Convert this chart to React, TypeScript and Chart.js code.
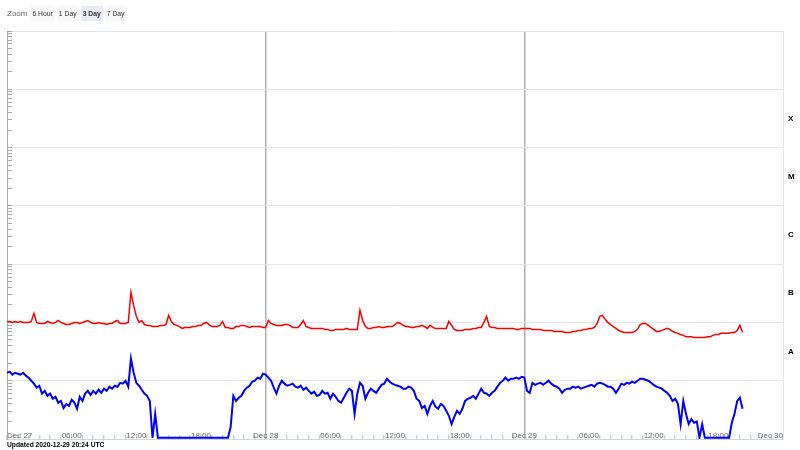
import { useEffect, useRef } from 'react';
import { Chart, registerables } from 'chart.js';

Chart.register(...registerables);

// Time axis: hours since Dec 27 00:00 UTC, samples every 15 minutes
const STEP_HOURS = 0.25;
const dayLabels = ['Dec 27', 'Dec 28', 'Dec 29', 'Dec 30'];
const hourLabels: Record<number, string> = { 6: '06:00', 12: '12:00', 18: '18:00' };
const classLabels = ['A', 'B', 'C', 'M', 'X'];
const classFloors = [1e-8, 1e-7, 1e-6, 1e-5, 1e-4];
const zoomButtons = ['6 Hour', '1 Day', '3 Day', '7 Day'];
const selectedZoom = '3 Day';
const updatedText = 'Updated 2020-12-29 20:24 UTC';

// GOES 0.05-0.4 nm flux, units of 1e-9 W/m^2 (blue)
const xrsShort = [
  13.7, 14.3, 12.7, 13.7, 13.2, 12.7, 13.7, 12.2,
  11.3, 10.0, 8.9, 7.6, 8.2, 6.0, 6.7, 5.5,
  6.0, 4.9, 5.3, 4.2, 4.5, 3.4, 4.0, 3.7,
  4.7, 4.2, 3.3, 5.3, 4.5, 6.0, 6.7, 5.7,
  6.7, 6.0, 7.0, 6.2, 7.3, 6.7, 7.9, 7.3,
  8.2, 7.9, 9.2, 8.9, 10.0, 7.9, 23.9, 13.7,
  9.2, 8.2, 7.0, 6.0, 5.5, 4.5, 1.05, 2.7,
  1.05, 1.05, 1.05, 1.05, 1.05, 1.05, 1.05, 1.05,
  1.05, 1.05, 1.05, 1.05, 1.05, 1.05, 1.05, 1.05,
  1.05, 1.05, 1.05, 1.05, 1.05, 1.05, 1.05, 1.05,
  1.05, 1.05, 1.05, 1.6, 5.5, 4.5, 5.1, 5.5,
  6.7, 7.6, 8.2, 9.6, 10.0, 11.3, 10.8, 13.2,
  12.7, 11.3, 10.0, 7.6, 6.0, 8.2, 10.0, 8.9,
  8.2, 8.5, 8.9, 7.9, 7.6, 8.2, 7.0, 7.6,
  6.7, 6.0, 6.5, 5.5, 5.7, 6.7, 6.0, 6.2,
  4.9, 6.0, 5.3, 4.5, 4.2, 5.1, 6.2, 7.3,
  6.7, 2.7, 6.0, 9.2, 8.2, 4.9, 6.2, 7.3,
  6.7, 6.2, 7.3, 8.5, 8.9, 10.8, 9.6, 8.9,
  8.5, 8.2, 7.9, 7.3, 7.3, 7.9, 7.6, 6.7,
  4.9, 4.5, 3.4, 3.7, 2.7, 3.7, 4.5, 3.6,
  3.3, 4.0, 3.7, 3.05, 2.5, 1.8, 2.4, 3.05,
  2.7, 3.3, 4.5, 4.9, 5.1, 5.5, 4.9, 6.0,
  7.3, 6.2, 6.0, 5.5, 6.2, 6.7, 7.9, 9.2,
  10.0, 11.3, 10.0, 10.8, 10.8, 11.3, 10.8, 11.7,
  11.3, 6.7, 6.2, 9.2, 8.5, 8.9, 9.2, 8.5,
  9.2, 10.0, 8.9, 8.2, 7.9, 7.3, 6.2, 7.0,
  7.3, 7.3, 7.9, 7.6, 7.9, 7.3, 7.6, 7.9,
  8.2, 8.5, 7.9, 8.9, 9.2, 8.9, 8.5, 7.9,
  7.9, 7.3, 6.2, 7.3, 8.9, 8.5, 9.2, 8.9,
  9.6, 9.2, 10.0, 10.8, 10.8, 10.4, 10.0, 9.2,
  8.5, 7.9, 7.6, 7.3, 6.7, 6.2, 5.5, 4.5,
  4.9, 4.0, 1.8, 4.5, 2.7, 1.8, 2.2, 1.9,
  2.0, 1.05, 1.8, 1.05, 1.05, 1.05, 1.05, 1.05,
  1.05, 1.05, 1.05, 1.05, 1.05, 1.9, 2.7, 4.5,
  5.1, 3.3,
];

// GOES 0.1-0.8 nm flux, units of 1e-8 W/m^2 (red)
const xrsLong = [
  10.4, 10.4, 10.0, 10.4, 10.0, 10.4, 10.0, 10.0,
  10.0, 10.4, 14.3, 10.0, 9.6, 9.6, 9.6, 10.4,
  10.0, 9.6, 10.0, 10.8, 10.0, 9.6, 9.2, 9.2,
  9.6, 10.0, 10.0, 9.6, 10.0, 10.4, 10.8, 10.0,
  9.6, 9.6, 10.0, 9.6, 9.6, 9.2, 9.6, 9.6,
  10.4, 10.8, 9.6, 9.6, 9.6, 10.0, 32.8, 19.6,
  12.7, 10.0, 10.8, 9.2, 8.9, 8.9, 8.5, 8.5,
  8.5, 8.9, 8.9, 9.2, 13.2, 10.4, 9.2, 8.9,
  8.5, 7.9, 8.2, 8.2, 8.2, 8.5, 8.5, 8.9,
  8.9, 9.6, 10.0, 9.2, 8.5, 8.5, 8.5, 8.9,
  10.4, 8.2, 8.2, 7.9, 7.9, 8.5, 8.5, 8.9,
  8.9, 8.5, 8.2, 8.5, 8.5, 8.5, 8.5, 8.2,
  8.2, 10.8, 9.6, 9.2, 8.9, 8.9, 8.9, 9.2,
  9.2, 8.9, 8.2, 8.2, 8.2, 9.2, 10.8, 8.5,
  8.2, 7.9, 7.9, 7.9, 7.9, 7.9, 7.6, 7.6,
  7.3, 7.3, 7.6, 7.6, 7.6, 7.6, 7.9, 7.6,
  7.6, 7.6, 7.6, 16.1, 10.8, 8.5, 7.9, 7.9,
  8.2, 8.2, 8.5, 8.2, 8.2, 8.5, 8.5, 8.5,
  9.2, 10.0, 9.6, 8.9, 8.5, 8.5, 8.2, 8.2,
  8.5, 8.5, 8.9, 8.5, 7.9, 8.9, 8.2, 7.9,
  7.9, 7.9, 7.9, 7.9, 10.4, 8.9, 7.6, 7.3,
  7.3, 7.3, 7.6, 7.6, 7.6, 7.9, 7.9, 8.2,
  8.2, 10.0, 12.7, 8.5, 8.2, 8.2, 7.9, 7.9,
  7.9, 7.9, 7.9, 7.9, 7.9, 7.6, 7.6, 7.9,
  7.9, 7.9, 7.9, 7.6, 7.6, 7.6, 7.6, 7.3,
  7.3, 7.3, 7.3, 7.0, 7.0, 7.0, 7.0, 6.7,
  6.7, 6.7, 7.0, 7.0, 7.3, 7.3, 7.6, 7.6,
  7.9, 7.9, 8.2, 9.6, 12.7, 13.2, 11.3, 10.0,
  9.2, 8.5, 7.9, 7.3, 7.0, 6.7, 6.7, 6.7,
  6.7, 7.0, 7.6, 9.2, 9.6, 9.6, 8.9, 8.2,
  7.6, 7.0, 7.0, 7.3, 7.6, 7.9, 7.6, 7.0,
  6.7, 6.5, 6.2, 6.0, 5.7, 5.7, 5.7, 5.5,
  5.5, 5.5, 5.5, 5.5, 5.7, 5.7, 6.0, 6.2,
  6.2, 6.5, 6.5, 6.5, 6.5, 6.7, 6.7, 7.3,
  8.9, 6.7,
];

const FONT = '"Liberation Sans", Arial, Helvetica, sans-serif';

const isDecade = (v: number) => Math.abs(Math.log10(v) - Math.round(Math.log10(v))) < 1e-6;

export default function App() {
  const canvasRef = useRef<HTMLCanvasElement | null>(null);

  useEffect(() => {
    const canvas = canvasRef.current;
    if (!canvas) return;
    Chart.defaults.font.family = FONT;

    const longPts = xrsLong.map((v, i) => ({ x: i * STEP_HOURS, y: v * 1e-8 }));
    const shortPts = xrsShort.map((v, i) => ({ x: i * STEP_HOURS, y: v * 1e-9 }));

    const chart = new Chart(canvas, {
      type: 'line',
      data: {
        datasets: [
          {
            label: 'GOES 0.1-0.8 nm',
            data: longPts,
            borderColor: '#ff0000',
            borderWidth: 1.5,
            pointRadius: 0,
            tension: 0,
            yAxisID: 'y',
          },
          {
            label: 'GOES 0.05-0.4 nm',
            data: shortPts,
            borderColor: '#0000ff',
            borderWidth: 2,
            pointRadius: 0,
            tension: 0,
            yAxisID: 'y',
          },
        ],
      },
      options: {
        responsive: false,
        animation: false,
        layout: { padding: { left: 7, top: 31, right: 0, bottom: 11 } },
        plugins: { legend: { display: false }, tooltip: { enabled: false } },
        scales: {
          x: {
            type: 'linear',
            position: 'bottom',
            min: 0,
            max: 72,
            afterBuildTicks: (s: any) => {
              s.ticks = Array.from({ length: 73 }, (_, h) => ({ value: h }));
            },
            afterFit: (s: any) => {
              s.height = 0;
            },
            grid: {
              color: (ctx: any) => {
                const v = ctx.tick ? ctx.tick.value : -1;
                return v % 24 === 0 && v > 0 && v < 72 ? '#b0b0b0' : 'rgba(0,0,0,0)';
              },
              lineWidth: 1.5,
              tickColor: '#b8bcc8',
              tickWidth: 1,
              tickLength: -4,
            },
            border: { display: true, color: '#ccd6eb', width: 1 },
            ticks: {
              autoSkip: false,
              maxRotation: 0,
              mirror: true,
              padding: -1.5,
              align: 'inner',
              color: '#666666',
              font: { size: 8, family: FONT },
              callback: (v: any) => {
                const h = Number(v);
                if (h % 24 === 0) return dayLabels[h / 24];
                if (h % 6 === 0) return hourLabels[h % 24];
                return '';
              },
            },
          },
          y: {
            type: 'logarithmic',
            position: 'left',
            min: 1e-9,
            max: 1e-2,
            afterBuildTicks: (s: any) => {
              const t: { value: number }[] = [];
              for (let e = -9; e < -2; e++) {
                for (let m = 1; m <= 9; m++) t.push({ value: m * Math.pow(10, e) });
              }
              t.push({ value: 1e-2 });
              s.ticks = t;
            },
            afterFit: (s: any) => {
              s.width = 0;
            },
            ticks: { display: false },
            grid: {
              color: (ctx: any) => {
                const v = ctx.tick ? ctx.tick.value : 0;
                if (!isDecade(v)) return 'rgba(0,0,0,0)';
                return v > 5e-3 ? '#e3e7f2' : '#e6e6e6';
              },
              lineWidth: 1,
              tickColor: '#a8a8a8',
              tickLength: -5,
            },
            border: { display: true, color: '#a8a8a8', width: 1 },
          },
          y2: {
            type: 'logarithmic',
            position: 'right',
            min: 1e-9,
            max: 1e-2,
            afterBuildTicks: (s: any) => {
              s.ticks = classFloors.map((v) => ({ value: v * Math.sqrt(10) }));
            },
            afterFit: (s: any) => {
              s.width = 17;
            },
            grid: { display: false, drawTicks: false, tickLength: 0 },
            border: { display: true, color: '#e3e7f2', width: 1 },
            ticks: {
              padding: 5,
              color: '#000000',
              font: { size: 8, weight: 'bold', family: FONT },
              callback: (_v: any, i: number) => classLabels[i],
            },
          },
        },
      },
    } as any);

    return () => chart.destroy();
  }, []);

  return (
    <div
      style={{
        position: 'fixed',
        left: 0,
        top: 0,
        width: 800,
        height: 450,
        background: '#ffffff',
        fontFamily: FONT,
      }}
    >
      <canvas ref={canvasRef} width={800} height={450} style={{ position: 'absolute', left: 0, top: 0 }} />
      <div
        style={{
          position: 'absolute',
          left: 7,
          top: 6,
          height: 15,
          display: 'flex',
          alignItems: 'center',
          fontSize: 6.8,
          lineHeight: '15px',
        }}
      >
        <span style={{ color: '#666666', fontSize: 8, marginRight: 3 }}>Zoom</span>
        {zoomButtons.map((b) => (
          <span
            key={b}
            style={{
              background: b === selectedZoom ? '#e6ebf5' : '#f7f7f7',
              color: '#333333',
              fontWeight: b === selectedZoom ? 'bold' : 'normal',
              padding: '0 2px',
              marginRight: 2,
              height: 15,
              display: 'inline-block',
            }}
          >
            {b}
          </span>
        ))}
      </div>
      <div
        style={{
          position: 'absolute',
          left: 7,
          top: 441,
          fontSize: 6.7,
          fontWeight: 'bold',
          color: '#000000',
          whiteSpace: 'nowrap',
        }}
      >
        {updatedText}
      </div>
    </div>
  );
}
